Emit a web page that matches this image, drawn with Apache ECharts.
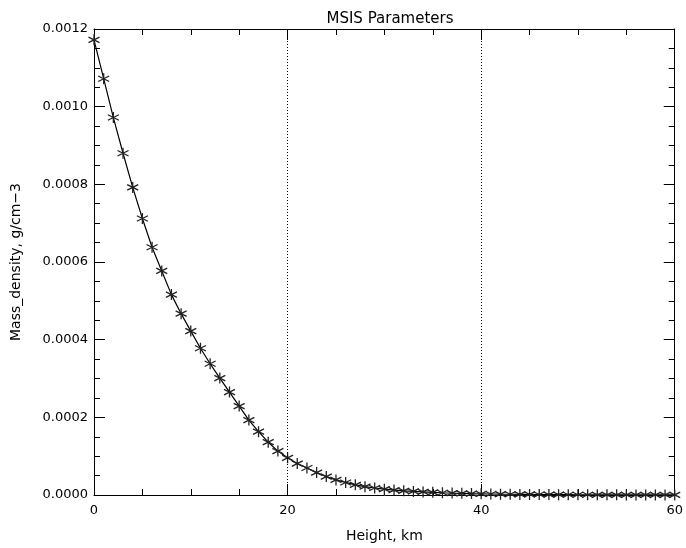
<!DOCTYPE html>
<html>
<head>
<meta charset="utf-8">
<script src="https://cdn.jsdelivr.net/npm/echarts@6/dist/echarts.min.js"></script>
<style>
  html, body { margin: 0; padding: 0; background: #fff; }
  #chart { width: 686px; height: 548px; }
</style>
</head>
<body>
<div id="chart"></div>
<script>
// height, km (one sample per km)
var heights = [];
for (var k = 0; k <= 60; k++) heights.push(k);

// mass density, g/cm^3
var density = [
  0.001172, 0.001072, 0.000972, 0.000880, 0.000792, 0.000712, 0.000638, 0.000577, 0.000516, 0.000467,
  0.000422, 0.000378, 0.000338, 0.000301, 0.000265, 0.000229, 0.000193, 0.000163, 0.000136, 0.000113,
  0.0000958, 0.0000810, 0.0000695, 0.0000577, 0.0000475, 0.0000389, 0.0000323, 0.0000262, 0.0000215, 0.0000180,
  0.0000150, 0.0000127, 0.0000108, 0.0000092, 0.0000080, 0.0000068, 0.0000058, 0.0000049, 0.0000042, 0.0000036,
  0.0000031, 0.0000026, 0.0000022, 0.0000019, 0.0000016, 0.0000014, 0.0000012, 0.0000010, 0.00000087, 0.00000075,
  0.00000065, 0.00000056, 0.00000048, 0.00000042, 0.00000036, 0.00000031, 0.00000027, 0.00000023, 0.00000020, 0.00000017,
  0.00000015
];

// dotted reference lines
var markHeights = [20, 40];

var xTicks = [0, 20, 40, 60];
var yTicks = [0, 0.0002, 0.0004, 0.0006, 0.0008, 0.0010, 0.0012];

var FONT = 'DejaVu Sans';
var asterisk = 'path://M0,-1L0,1M-0.87,-0.5L0.87,0.5M-0.87,0.5L0.87,-0.5';

var pts = [];
for (var i = 0; i < heights.length; i++) pts.push([heights[i], density[i]]);

function axisBase(extra) {
  var a = {
    axisLine: { show: true, onZero: false, lineStyle: { color: '#000', width: 1 } },
    axisTick: { show: true, inside: true, length: 11, lineStyle: { color: '#000' } },
    minorTick: { show: true, splitNumber: 4, length: 6, lineStyle: { color: '#000' } },
    splitLine: { show: false },
    minorSplitLine: { show: false }
  };
  for (var key in extra) a[key] = extra[key];
  return a;
}

var chart = echarts.init(document.getElementById('chart'));
chart.setOption({
  animation: false,
  backgroundColor: '#fff',
  title: {
    text: 'MSIS Parameters',
    left: 385, top: 7, textAlign: 'center',
    textStyle: { fontFamily: FONT, fontSize: 15, fontWeight: 'normal', color: '#000' }
  },
  grid: { left: 94, right: 9, top: 29, bottom: 47 },
  xAxis: [
    axisBase({
      type: 'value', min: xTicks[0], max: xTicks[xTicks.length - 1], interval: 20,
      name: 'Height, km', nameLocation: 'middle', nameGap: 34,
      nameTextStyle: { fontFamily: FONT, fontSize: 14, color: '#000' },
      axisLabel: { fontFamily: FONT, fontSize: 13, color: '#000', margin: 9 }
    }),
    axisBase({
      type: 'value', position: 'top', min: xTicks[0], max: xTicks[xTicks.length - 1], interval: 20,
      axisLabel: { show: false }
    })
  ],
  yAxis: [
    axisBase({
      type: 'value', min: yTicks[0], max: yTicks[yTicks.length - 1], interval: 0.0002,
      name: 'Mass_density, g/cm\u22123', nameLocation: 'middle', nameGap: 71, nameRotate: 90,
      nameTextStyle: { fontFamily: FONT, fontSize: 14, color: '#000' },
      axisLabel: {
        fontFamily: FONT, fontSize: 13, color: '#000', margin: 6,
        formatter: function (v) { return v.toFixed(4); }
      }
    }),
    axisBase({
      type: 'value', position: 'right', min: yTicks[0], max: yTicks[yTicks.length - 1], interval: 0.0002,
      axisLabel: { show: false }
    })
  ],
  series: [{
    type: 'line',
    data: pts,
    symbol: asterisk,
    symbolSize: 11,
    showAllSymbol: true,
    lineStyle: { color: '#000', width: 1.2 },
    itemStyle: { color: 'rgba(0,0,0,0)', borderColor: '#222', borderWidth: 1.3 },
    markLine: {
      silent: true,
      symbol: 'none',
      label: { show: false },
      lineStyle: { color: '#000', type: [1, 2], width: 1 },
      data: markHeights.map(function (h) { return { xAxis: h }; })
    }
  }]
});
</script>
</body>
</html>
